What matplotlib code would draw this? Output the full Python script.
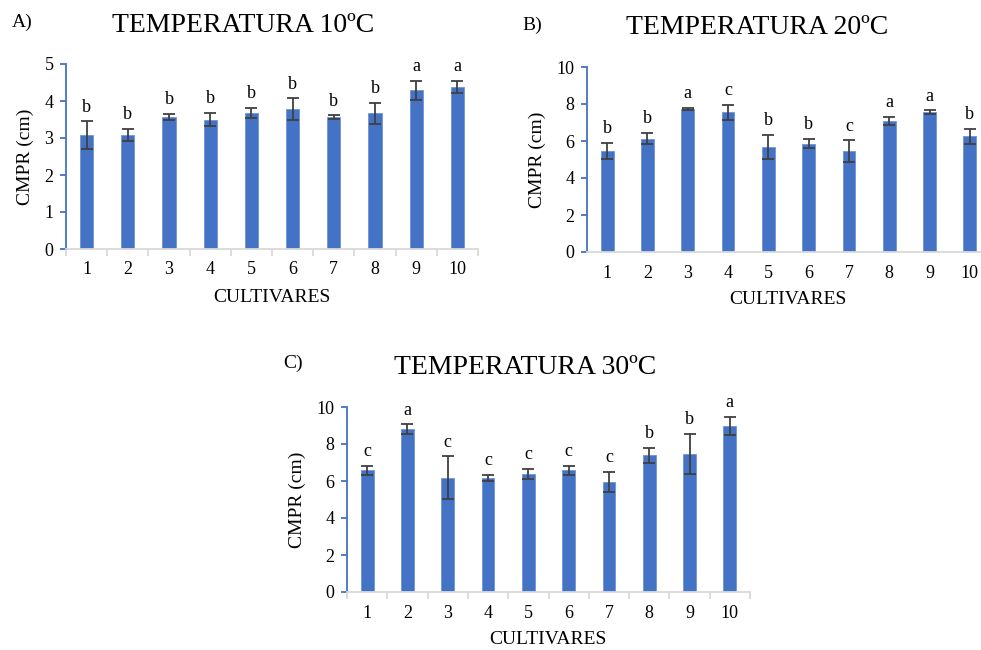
import matplotlib
matplotlib.use('Agg')
import matplotlib.pyplot as plt

plt.rcParams['font.family'] = ['Liberation Serif', 'DejaVu Serif']

cultivares = ['1', '2', '3', '4', '5', '6', '7', '8', '9', '10']

# 10 C
mean_10 = [3.08, 3.08, 3.57, 3.50, 3.67, 3.78, 3.57, 3.67, 4.29, 4.38]
err_10 = [0.37, 0.17, 0.08, 0.18, 0.14, 0.29, 0.05, 0.28, 0.26, 0.17]
let_10 = ['b', 'b', 'b', 'b', 'b', 'b', 'b', 'b', 'a', 'a']

# 20 C
mean_20 = [5.46, 6.13, 7.75, 7.55, 5.68, 5.86, 5.46, 7.08, 7.55, 6.25]
err_20 = [0.43, 0.30, 0.05, 0.40, 0.66, 0.25, 0.58, 0.23, 0.10, 0.40]
let_20 = ['b', 'b', 'a', 'c', 'b', 'b', 'c', 'a', 'a', 'b']

# 30 C
mean_30 = [6.58, 8.80, 6.18, 6.17, 6.38, 6.58, 5.95, 7.38, 7.47, 8.99]
err_30 = [0.24, 0.26, 1.15, 0.18, 0.27, 0.24, 0.54, 0.43, 1.07, 0.49]
let_30 = ['c', 'a', 'c', 'c', 'c', 'c', 'c', 'b', 'b', 'a']

BLUE = '#4472C4'
W, H = 981, 650

fig = plt.figure(figsize=(W / 100, H / 100), dpi=100)


def px(x, y):
    return x / W, 1 - y / H


def panel(rect, mean, err, letters, ymax, step, title, tag, tag_xy, title_xy,
          ylab_xy, xlab_xy, xticks=True):
    ax = fig.add_axes(rect)
    x = list(range(len(cultivares)))
    ax.bar(x, mean, width=0.32, color=BLUE, edgecolor='#6F93D6', linewidth=0.6,
           zorder=2)
    ax.errorbar(x, mean, yerr=err, fmt='none', ecolor='#404040', elinewidth=1.3,
                capsize=4.5, capthick=1.3, zorder=3)
    for xi, m, e, l in zip(x, mean, err, letters):
        ax.annotate(l, (xi, m + e), xytext=(0, 4), textcoords='offset points',
                    ha='center', va='bottom', fontsize=13)
    ax.set_xlim(-0.5, len(cultivares) - 0.5)
    ax.set_ylim(0, ymax)
    ax.set_yticks([i * step for i in range(int(ymax / step) + 1)])
    ax.set_xticks(x)
    ax.set_xticklabels(cultivares)
    ax.spines['top'].set_visible(False)
    ax.spines['right'].set_visible(False)
    ax.spines['left'].set_color(BLUE)
    ax.spines['left'].set_linewidth(1.3)
    ax.spines['bottom'].set_color('#D9D9D9')
    ax.spines['bottom'].set_linewidth(1.3)
    ax.tick_params(axis='y', colors=BLUE, length=4, width=1.3, labelsize=13,
                   labelcolor='black', pad=5)
    ax.tick_params(axis='x', length=0, labelsize=13, pad=9)
    if xticks:
        ax.set_xticks([i + 0.5 for i in range(-1, len(cultivares))], minor=True)
        ax.tick_params(axis='x', which='minor', length=5, width=1.3,
                       colors='#D9D9D9')
    fig.text(*px(*title_xy), title, ha='center', va='center', fontsize=20)
    fig.text(*px(*tag_xy), tag, ha='left', va='center', fontsize=14)
    fig.text(*px(*ylab_xy), 'CMPR (cm)', ha='center', va='center',
             rotation=90, fontsize=14)
    fig.text(*px(*xlab_xy), 'CULTIVARES', ha='center', va='center', fontsize=14)
    return ax


h = 185 / H
panel([66 / W, 1 - 249 / H, 412 / W, h], mean_10, err_10, let_10, 5, 1,
      'TEMPERATURA 10ºC', 'A)', (12, 22), (243, 26), (25, 157), (272, 297))
panel([587 / W, 1 - 252 / H, 403 / W, h], mean_20, err_20, let_20, 10, 2,
      'TEMPERATURA 20ºC', 'B)', (522, 25), (757, 28), (537, 160), (788, 300),
      xticks=False)
panel([347 / W, 1 - 592 / H, 403 / W, h], mean_30, err_30, let_30, 10, 2,
      'TEMPERATURA 30ºC', 'C)', (283, 363), (525, 368), (297, 500), (548, 640))

fig.savefig('out.png', dpi=100)
